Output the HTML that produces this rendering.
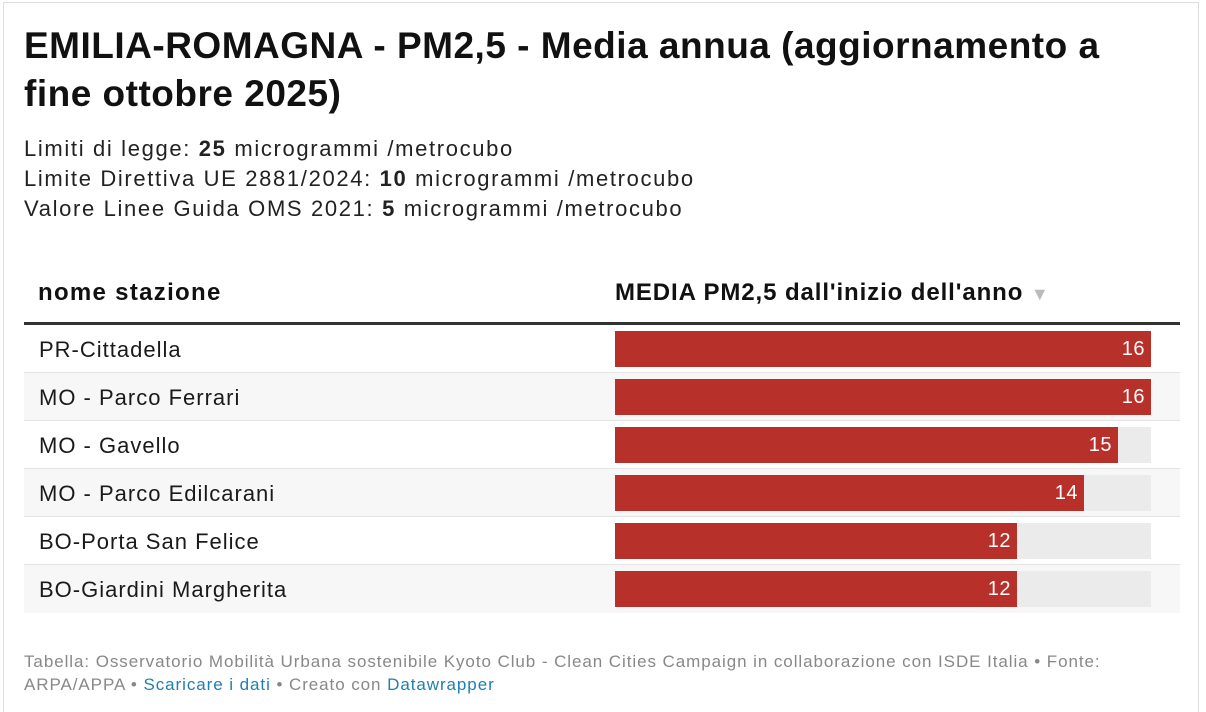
<!DOCTYPE html>
<html><head><meta charset="utf-8"><style>
*{margin:0;padding:0;box-sizing:border-box}
html{height:712px;overflow:hidden}
body{width:1206px;height:712px;background:#fff;font-family:"Liberation Sans",Arial,sans-serif;color:#181818;position:relative;overflow:hidden}
.frame{position:absolute;left:3px;top:2px;width:1196px;height:710px;border:1px solid #ddd;border-bottom:none}
h1{position:absolute;left:24px;top:22px;width:1110px;font-size:37px;line-height:48px;font-weight:bold;color:#111;letter-spacing:0.5px}
.sub{position:absolute;left:24px;top:134px;font-size:22px;line-height:30px;color:#222;letter-spacing:1.65px}
.hd{position:absolute;top:279px;font-size:24px;font-weight:bold;color:#111}
.hline{position:absolute;left:24px;top:322px;width:1156px;height:3px;background:#333}
.row{position:absolute;left:24px;width:1156px;height:48px;border-bottom:1px solid #e3e3e3}
.row .n{position:absolute;left:15px;top:12px;font-size:22px;color:#1a1a1a;letter-spacing:1px}
.row .tr{position:absolute;left:591px;top:6px;width:536px;height:36px;background:#ebebeb}
.row .b{position:absolute;left:591px;top:6px;height:36px;background:#b8302a}
.row .v{position:absolute;right:6px;top:7px;color:#fff;font-size:20px;letter-spacing:0.5px}
.foot{position:absolute;left:24px;top:650px;font-size:17px;line-height:23px;color:#888;letter-spacing:0.93px}
.foot a{color:#1f7fae;text-decoration:none}
</style></head><body>
<div class="frame"></div>
<h1>EMILIA-ROMAGNA - PM2,5 - Media annua (aggiornamento a fine ottobre 2025)</h1>
<div class="sub">Limiti di legge: <b>25</b> microgrammi /metrocubo<br>Limite Direttiva UE 2881/2024: <b>10</b> microgrammi /metrocubo<br>Valore Linee Guida OMS 2021: <b>5</b> microgrammi /metrocubo</div>
<div class="hd" style="left:38px;letter-spacing:1.3px">nome stazione</div>
<div class="hd" style="left:615px;letter-spacing:0.9px">MEDIA PM2,5 dall'inizio dell'anno <span style="color:#bbb;font-size:18px">▼</span></div>
<div class="hline"></div>
<div class="row" style="top:325px"><div class="n">PR-Cittadella</div><div class="tr"></div><div class="b" style="width:536px"><span class="v">16</span></div></div>
<div class="row" style="top:373px;background:#f7f7f7"><div class="n">MO - Parco Ferrari</div><div class="tr"></div><div class="b" style="width:536px"><span class="v">16</span></div></div>
<div class="row" style="top:421px"><div class="n">MO - Gavello</div><div class="tr"></div><div class="b" style="width:503px"><span class="v">15</span></div></div>
<div class="row" style="top:469px;background:#f7f7f7"><div class="n">MO - Parco Edilcarani</div><div class="tr"></div><div class="b" style="width:469px"><span class="v">14</span></div></div>
<div class="row" style="top:517px"><div class="n">BO-Porta San Felice</div><div class="tr"></div><div class="b" style="width:402px"><span class="v">12</span></div></div>
<div class="row" style="top:565px;background:#f7f7f7;border-bottom:none"><div class="n">BO-Giardini Margherita</div><div class="tr"></div><div class="b" style="width:402px"><span class="v">12</span></div></div>
<div class="foot">Tabella: Osservatorio Mobilità Urbana sostenibile Kyoto Club - Clean Cities Campaign in collaborazione con ISDE Italia • Fonte:<br>ARPA/APPA • <a>Scaricare i dati</a> • Creato con <a>Datawrapper</a></div>
</body></html>
